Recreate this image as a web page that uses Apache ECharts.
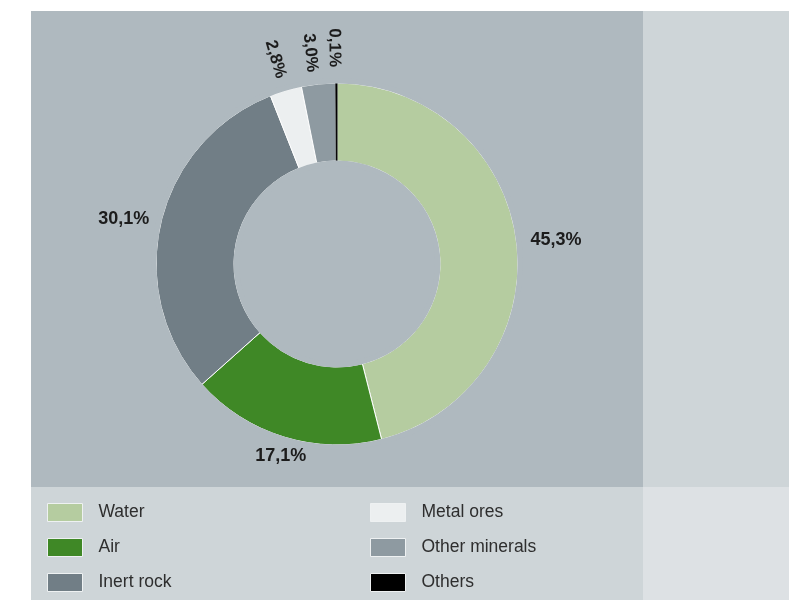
<!DOCTYPE html>
<html>
<head>
<meta charset="utf-8">
<title>Composition</title>
<script src="https://cdn.jsdelivr.net/npm/echarts@6/dist/echarts.min.js"></script>
<style>
  html, body { margin: 0; padding: 0; background: #ffffff; }
  #chart { width: 789px; height: 600px; }
</style>
</head>
<body>
<div id="chart"></div>
<script>
// Share of each input (percent, as printed on the labels)
const categories = ['Water', 'Air', 'Inert rock', 'Metal ores', 'Other minerals', 'Others'];
const shares = [45.3, 17.1, 30.1, 2.8, 3.0, 0.1];
const sliceColors = ['#b5cca0', '#3f8826', '#717e86', '#eceff0', '#8e9aa1', '#000000'];

// Legend columns
const legendLeftColumn = ['Water', 'Air', 'Inert rock'];
const legendRightColumn = ['Metal ores', 'Other minerals', 'Others'];

// Label placement per slice: radial gap from the ring, sideways nudge, top padding, rotation
const labelGap = [12, 20, 12, 13, 12, 16];
const labelNudge = [2, -28, 0, 1, 5, 2];
const labelDrop = [8, 0, 0, 0, 0, 0];
const labelRadial = [false, false, false, true, true, true];

const FONT = '"Liberation Sans", Arial, Helvetica, sans-serif';
const PANEL = '#afb9bf';

const chart = echarts.init(document.getElementById('chart'), null, { renderer: 'canvas' });

const pieData = categories.map((name, i) => ({
  name: name,
  value: shares[i],
  itemStyle: {
    color: sliceColors[i],
    // the hairline slice keeps its own colour on its edges
    borderColor: sliceColors[i] === '#000000' ? '#000000' : '#ffffff'
  },
  label: {
    rotate: labelRadial[i] ? 'radial' : 0,
    distanceToLabelLine: labelNudge[i],
    padding: [labelDrop[i], 0, 0, 0],
    fontSize: labelRadial[i] ? 17 : 18
  },
  labelLine: { length: labelGap[i], length2: 0 }
}));

const fmt = p => p.value.toFixed(1).replace('.', ',') + '%';

// thin rings in the panel colour that hide the white outline on the ring's arcs
const edgeMask = (radius) => ({
  type: 'pie',
  silent: true,
  center: [337, 264],
  radius: radius,
  z: 3,
  label: { show: false },
  labelLine: { show: false },
  emphasis: { disabled: true },
  itemStyle: { color: PANEL, borderWidth: 0 },
  data: [{ name: 'edge', value: 1 }]
});

const legendCommon = {
  orient: 'vertical',
  icon: 'rect',
  itemWidth: 35,
  itemHeight: 18,
  itemGap: 16,
  selectedMode: false,
  padding: 0,
  itemStyle: { borderColor: '#eef1f2', borderWidth: 1 },
  textStyle: {
    fontFamily: FONT,
    fontSize: 17.5,
    color: '#2e2e2e',
    lineHeight: 18,
    padding: [0, 0, 0, 11]
  }
};

chart.setOption({
  animation: false,
  graphic: [
    { type: 'rect', silent: true, shape: { x: 31, y: 11, width: 612, height: 476 }, style: { fill: PANEL } },
    { type: 'rect', silent: true, shape: { x: 643, y: 11, width: 146, height: 476 }, style: { fill: '#ced5d8' } },
    { type: 'rect', silent: true, shape: { x: 31, y: 487, width: 612, height: 113 }, style: { fill: '#ced5d8' } },
    { type: 'rect', silent: true, shape: { x: 643, y: 487, width: 146, height: 113 }, style: { fill: '#dde1e4' } }
  ],
  legend: [
    Object.assign({}, legendCommon, { data: legendLeftColumn, left: 47, top: 503 }),
    Object.assign({}, legendCommon, { data: legendRightColumn, left: 370, top: 503 })
  ],
  series: [
    {
      type: 'pie',
      center: [337, 264],
      radius: [103, 181],
      startAngle: 90,
      clockwise: true,
      avoidLabelOverlap: false,
      emphasis: { disabled: true },
      itemStyle: { borderColor: '#ffffff', borderWidth: 1 },
      label: {
        show: true,
        position: 'outside',
        formatter: fmt,
        fontFamily: FONT,
        fontWeight: 'bold',
        color: '#1c1c1c'
      },
      labelLine: { show: false },
      data: pieData
    },
    edgeMask([180.6, 186]),
    edgeMask([98, 103.4])
  ]
});
</script>
</body>
</html>
